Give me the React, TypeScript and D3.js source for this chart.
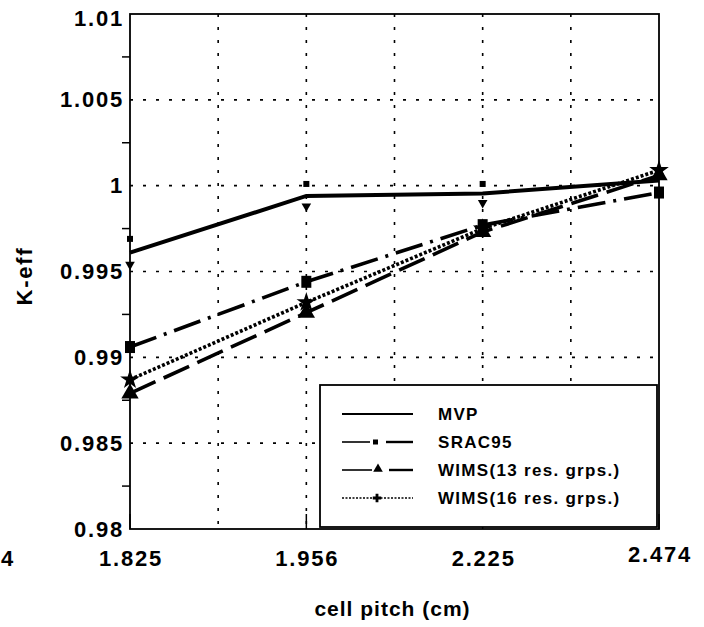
import React from "react";
import * as d3 from "d3";

const categories = ["1.825", "1.956", "2.225", "2.474"];
const mvp = [0.9961, 0.9994, 0.99955, 1.0003];
const mvpErrHigh = [0.9969, 1.0001, 1.0001, 1.0009];
const mvpErrLow = [0.9954, 0.9988, 0.999, 0.9997];
const srac95 = [0.9906, 0.9944, 0.9977, 0.9996];
const wims13 = [0.9879, 0.9926, 0.9973, 1.0006];
const wims16 = [0.9887, 0.9932, 0.9975, 1.0009];
const yTicks = [0.98, 0.985, 0.99, 0.995, 1, 1.005, 1.01];
const yTickLabels = ["0.98", "0.985", "0.99", "0.995", "1", "1.005", "1.01"];
const yMinorTicks = [0.9825, 0.9875, 0.9925, 0.9975, 1.0025, 1.0075];
const xGrid = [1.5, 2, 2.5, 3, 3.5];
const legendLabels = ["MVP", "SRAC95", "WIMS(13 res. grps.)", "WIMS(16 res. grps.)"];

const W = 704;
const H = 627;
const L = 130, R = 659, T = 14, B = 529;
const FONT = "'Liberation Sans', Arial, Helvetica, sans-serif";

export default function App() {
  const x = d3.scaleLinear().domain([1, 4]).range([L, R]);
  const y = d3.scaleLinear().domain([0.98, 1.01]).range([B, T]);
  const line = d3
    .line<number>()
    .x((_, i) => x(i + 1))
    .y((d) => y(d));

  const tri = d3.symbol().type(d3.symbolTriangle).size(130)() as string;
  const star = d3.symbol().type(d3.symbolStar).size(120)() as string;
  const triSmall = d3.symbol().type(d3.symbolTriangle).size(40)() as string;
  const plusSmall = d3.symbol().type(d3.symbolCross).size(40)() as string;

  const legendX = 320, legendY = 385, legendW = 337, legendH = 142;
  const rowY = [414, 442, 470, 498];
  const lx0 = 342, lx1 = 413, ltx = 438;

  return (
    <div style={{ position: "absolute", left: 0, top: 0 }}>
      <svg width={W} height={H} style={{ display: "block", background: "#fff" }}>
        <rect x={0} y={0} width={W} height={H} fill="#fff" />
        <g stroke="#000" strokeWidth={1.6} strokeDasharray="3 10">
          {yTicks.slice(1, -1).map((t) => (
            <line key={"hy" + t} x1={L} x2={R} y1={y(t)} y2={y(t)} />
          ))}
          {xGrid.map((g) => (
            <line key={"vx" + g} x1={x(g)} x2={x(g)} y1={T} y2={B} />
          ))}
        </g>
        <g stroke="#000" strokeWidth={1.5}>
          {categories.map((c, i) => (
            <line key={"xt" + c} x1={x(i + 1)} x2={x(i + 1)} y1={B} y2={B - 15} />
          ))}
        </g>
        <g stroke="#000" strokeWidth={1.5}>
          {yMinorTicks.map((t) => (
            <line key={"ym" + t} x1={L - 8} x2={L} y1={y(t)} y2={y(t)} />
          ))}
        </g>
        <path d={line(wims16) as string} fill="none" stroke="#000" strokeWidth={3.6} strokeDasharray="3 2" />
        <path d={line(wims13) as string} fill="none" stroke="#000" strokeWidth={3.6} strokeDasharray="28 9" />
        <path d={line(srac95) as string} fill="none" stroke="#000" strokeWidth={3.6} strokeDasharray="28 8 3 8" />
        <path d={line(mvp) as string} fill="none" stroke="#000" strokeWidth={4} />
        {mvpErrHigh.map((v, i) => (
          <rect key={"eh" + i} x={x(i + 1) - 3} y={y(v) - 3} width={6} height={6} fill="#000" />
        ))}
        {mvpErrLow.map((v, i) => (
          <path key={"el" + i} d={triSmall} transform={`translate(${x(i + 1)},${y(v)}) rotate(180)`} fill="#000" />
        ))}
        {srac95.map((v, i) => (
          <rect key={"sm" + i} x={x(i + 1) - 5} y={y(v) - 6} width={10} height={12} fill="#000" />
        ))}
        {wims13.map((v, i) => (
          <path key={"tm" + i} d={tri} transform={`translate(${x(i + 1)},${y(v)})`} fill="#000" />
        ))}
        {wims16.map((v, i) => (
          <path key={"st" + i} d={star} transform={`translate(${x(i + 1)},${y(v)})`} fill="#000" />
        ))}
        <rect x={legendX} y={legendY} width={legendW} height={legendH} fill="#fff" stroke="#000" strokeWidth={1.8} />
        <line x1={lx0} x2={lx1} y1={rowY[0]} y2={rowY[0]} stroke="#000" strokeWidth={2.2} />
        <line x1={lx0} x2={370} y1={rowY[1]} y2={rowY[1]} stroke="#000" strokeWidth={1.6} />
        <rect x={373} y={rowY[1] - 2.5} width={5} height={5} fill="#000" />
        <line x1={386} x2={lx1} y1={rowY[1]} y2={rowY[1]} stroke="#000" strokeWidth={2.4} />
        <line x1={lx0} x2={372} y1={rowY[2]} y2={rowY[2]} stroke="#000" strokeWidth={1.6} />
        <path d={triSmall} transform={`translate(378,${rowY[2] - 1})`} fill="#000" />
        <line x1={389} x2={lx1} y1={rowY[2]} y2={rowY[2]} stroke="#000" strokeWidth={2.4} />
        <line x1={lx0} x2={lx1} y1={rowY[3]} y2={rowY[3]} stroke="#000" strokeWidth={1.6} strokeDasharray="2 1.5" />
        <path d={plusSmall} transform={`translate(377,${rowY[3]})`} fill="#000" />
        <g fontFamily={FONT} fontWeight="bold" fontSize={17} letterSpacing={1.3} fill="#000">
          {legendLabels.map((s, i) => (
            <text key={s} x={ltx} y={rowY[i]} dominantBaseline="central">
              {s}
            </text>
          ))}
        </g>
        <rect x={L} y={T} width={R - L} height={B - T} fill="none" stroke="#000" strokeWidth={1.8} />
        <g fontFamily={FONT} fontWeight="bold" fontSize={22} letterSpacing={1.8} fill="#000">
          {yTicks.map((t, i) => (
            <text key={"yl" + t} x={124} y={y(t) + (i === yTicks.length - 1 ? 4 : 0)} textAnchor="end" dominantBaseline="central">
              {yTickLabels[i]}
            </text>
          ))}
          {categories.map((c, i) => (
            <text key={"xl" + c} x={x(i + 1) + 1} y={i === 3 ? 554 : 558} textAnchor="middle" dominantBaseline="central">
              {c}
            </text>
          ))}
          <text x={1} y={558} dominantBaseline="central" letterSpacing={0}>4</text>
          <text x={(L + R) / 2 - 2} y={608} textAnchor="middle" dominantBaseline="central" fontSize={21} letterSpacing={1}>
            cell pitch (cm)
          </text>
          <text transform={`translate(24,276) rotate(-90)`} textAnchor="middle" dominantBaseline="central">
            K-eff
          </text>
        </g>
      </svg>
    </div>
  );
}
